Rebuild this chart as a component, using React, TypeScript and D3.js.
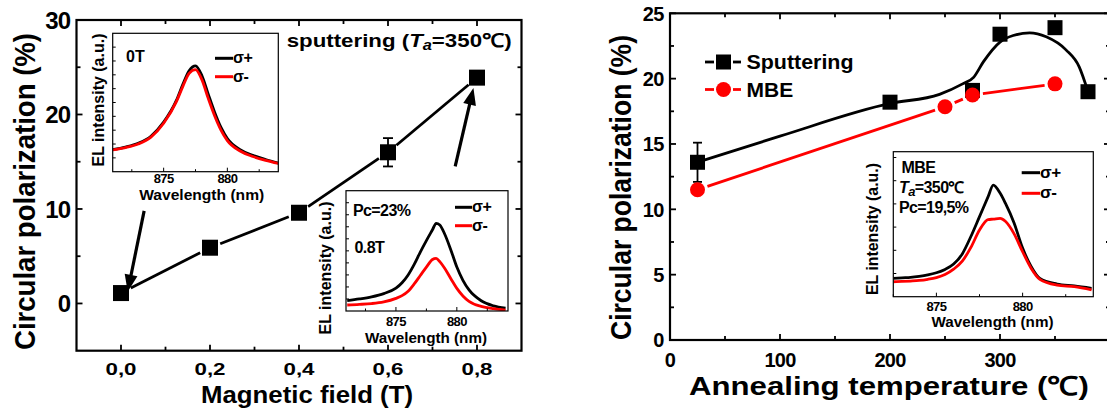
import React from "react";
import * as d3 from "d3";

const FONT = "'Liberation Sans', Arial, Helvetica, sans-serif";

// ---------- Panel (a): circular polarization vs magnetic field ----------
const fieldT = [0, 0.2, 0.4, 0.6, 0.8];
const pcField = [1.1, 5.9, 9.6, 16.0, 23.9];
const pcFieldErr = [0, 0, 0, 1.5, 0];
const fieldTickVals = [0, 0.2, 0.4, 0.6, 0.8];
const fieldTickLabels = ["0,0", "0,2", "0,4", "0,6", "0,8"];
const pcATickVals = [0, 10, 20, 30];
// annotation arrows (data coords): from -> to
const arrowFrom = [[0.052, 9.8], [0.751, 14.5]];
const arrowTo = [[0.015, 1.25], [0.792, 22.8]];

// ---------- Panel (b): circular polarization vs annealing temperature ----------
const annealT = [25, 200, 275, 300, 350, 380];
const pcSputter = [13.6, 18.2, 19.1, 23.4, 23.9, 19.0];
const sputterErr = [1.5, 0, 0, 0, 0, 0];
const mbeT = [25, 250, 275, 350];
const pcMBE = [11.5, 17.85, 18.75, 19.6];
const fitT = [25, 100, 200, 245, 266, 276, 285, 300, 312, 327, 342, 360, 372, 380];
const fitPc = [13.6, 15.6, 18.1, 18.8, 19.6, 20.1, 21.3, 22.8, 23.3, 23.5, 23.2, 22.2, 20.9, 19.0];
const tempTickVals = [0, 100, 200, 300];
const pcBTickVals = [0, 5, 10, 15, 20, 25];

// ---------- Inset spectra (EL intensity, a.u.) ----------
const wl0T = [871, 872, 873, 874, 875, 876, 876.5, 877, 877.5, 878, 878.5, 879, 879.5, 880, 881, 882, 883, 884];
const el0TPlus = [16.0, 17.8, 20.5, 25.6, 35.8, 51.5, 63.0, 73.0, 76.5, 69.5, 56.0, 43.0, 32.0, 24.0, 16.0, 11.8, 8.8, 6.3];
const el0TMinus = [15.7, 17.4, 20.0, 25.0, 35.0, 50.6, 61.5, 71.1, 73.8, 66.5, 53.0, 40.5, 30.1, 22.5, 15.0, 11.0, 8.2, 6.0];

const wl08T = [871, 872, 873, 874, 875, 875.5, 876, 876.5, 877, 877.5, 878, 878.3, 878.6, 879, 879.5, 880, 880.5, 881, 882, 883, 884];
const el08TPlus = [8.6, 10.0, 11.8, 14.5, 19.0, 23.5, 30.0, 38.8, 49.0, 58.5, 67.5, 72.9, 71.5, 64.0, 51.0, 36.5, 25.5, 17.5, 8.5, 4.3, 2.4];
const el08TMinus = [5.0, 5.5, 6.2, 7.6, 10.5, 12.8, 16.5, 22.5, 29.5, 36.5, 42.8, 43.8, 41.0, 35.5, 27.0, 18.8, 12.5, 8.0, 3.8, 1.9, 0.8];

const wlMBE = [872.5, 873, 873.5, 874, 874.5, 875, 875.5, 876, 876.5, 877, 877.5, 878, 878.3, 878.7, 879, 879.5, 880, 880.5, 881, 882, 883, 884];
const elMBEPlus = [12.6, 13.0, 13.3, 14.0, 15.0, 16.5, 18.8, 22.5, 29.5, 41.5, 55.2, 69.0, 77.0, 71.3, 64.5, 51.0, 33.5, 20.7, 12.6, 8.7, 7.4, 5.8];
const elMBEMinus = [10.3, 10.5, 10.8, 11.2, 12.0, 13.2, 15.3, 19.0, 24.5, 34.0, 46.0, 53.2, 53.5, 54.0, 52.0, 43.5, 31.0, 19.5, 12.0, 8.0, 6.9, 4.7];

const insetTickVals = [875, 880];
const insetMinorVals = [872.5, 877.5, 882.5];

const RED = "#ff0000";

type Scale = d3.ScaleLinear<number, number>;

function Frame({ x, y, lw }: { x: Scale; y: Scale; lw: number }) {
  const [x0, x1] = x.range();
  const [y0, y1] = y.range();
  return (
    <rect x={Math.min(x0, x1)} y={Math.min(y0, y1)} width={Math.abs(x1 - x0)} height={Math.abs(y1 - y0)}
      fill="none" stroke="#000" strokeWidth={lw} />
  );
}

function AxisTicks({ x, y, xMajor, xMinor, yMajor, yMinor }: any) {
  const [xl, xr] = x.range();
  const [yb, yt] = y.range();
  const out: any[] = [];
  const M = 6, m = 4;
  xMajor.forEach((v: number, i: number) => {
    const px = x(v);
    out.push(<line key={"xb" + i} x1={px} x2={px} y1={yb} y2={yb - M} />);
    out.push(<line key={"xt" + i} x1={px} x2={px} y1={yt} y2={yt + M} />);
  });
  xMinor.forEach((v: number, i: number) => {
    const px = x(v);
    out.push(<line key={"xbm" + i} x1={px} x2={px} y1={yb} y2={yb - m} />);
    out.push(<line key={"xtm" + i} x1={px} x2={px} y1={yt} y2={yt + m} />);
  });
  yMajor.forEach((v: number, i: number) => {
    const py = y(v);
    out.push(<line key={"yl" + i} x1={xl} x2={xl + M} y1={py} y2={py} />);
    out.push(<line key={"yr" + i} x1={xr} x2={xr - M} y1={py} y2={py} />);
  });
  yMinor.forEach((v: number, i: number) => {
    const py = y(v);
    out.push(<line key={"ylm" + i} x1={xl} x2={xl + m} y1={py} y2={py} />);
    out.push(<line key={"yrm" + i} x1={xr} x2={xr - m} y1={py} y2={py} />);
  });
  return <g stroke="#000" strokeWidth={1.8}>{out}</g>;
}

function gapSegments(xs: number[], ys: number[], gap: number) {
  const segs: any[] = [];
  for (let i = 0; i < xs.length - 1; i++) {
    const dx = xs[i + 1] - xs[i];
    const dy = ys[i + 1] - ys[i];
    const L = Math.hypot(dx, dy);
    if (L <= 2 * gap) continue;
    const ux = dx / L, uy = dy / L;
    segs.push([xs[i] + ux * gap, ys[i] + uy * gap, xs[i + 1] - ux * gap, ys[i + 1] - uy * gap]);
  }
  return segs;
}

function Inset(props: {
  x: Scale; y: Scale; wl: number[]; plus: number[]; minus: number[]; yTickStep: number;
  curve: any; tickBase: number; wlCenter: number; wlBase: number; wlLen: number;
  ylabX: number; ylabY: number; ylabLen: number; fs: number;
}) {
  const { x, y, wl, plus, minus, yTickStep, curve } = props;
  const line = d3.line<number>().x((_, i) => x(wl[i])).y((d) => y(d)).curve(curve);
  const [xl] = x.range();
  const [yb] = y.range();
  const yt = d3.range(yTickStep, 100, yTickStep);
  const cid = "clip" + Math.round(xl);
  return (
    <g>
      <rect x={x.range()[0]} y={y.range()[1]} width={x.range()[1] - x.range()[0]} height={y.range()[0] - y.range()[1]} fill="#fff" />
      <defs>
        <clipPath id={cid}>
          <rect x={x.range()[0]} y={y.range()[1]} width={x.range()[1] - x.range()[0]} height={y.range()[0] - y.range()[1]} />
        </clipPath>
      </defs>
      <g clipPath={`url(#${cid})`} fill="none" strokeWidth={2.8} strokeLinejoin="round">
        <path d={line(plus) || ""} stroke="#000" />
        <path d={line(minus) || ""} stroke={RED} />
      </g>
      <Frame x={x} y={y} lw={1.2} />
      <g stroke="#000" strokeWidth={1}>
        {insetTickVals.map((v) => (
          <line key={"M" + v} x1={x(v)} x2={x(v)} y1={yb} y2={yb - 4} />
        ))}
        {insetMinorVals.map((v) => (
          <line key={"m" + v} x1={x(v)} x2={x(v)} y1={yb} y2={yb - 2.5} />
        ))}
        {yt.map((v) => (
          <line key={"y" + v} x1={xl} x2={xl + 3} y1={y(v)} y2={y(v)} />
        ))}
      </g>
      <g fontFamily={FONT} fontWeight="bold" fill="#000">
        {insetTickVals.map((v) => (
          <text key={"t" + v} x={x(v)} y={props.tickBase} fontSize={13} textAnchor="middle" letterSpacing={-0.6}>
            {v}
          </text>
        ))}
        <text x={props.wlCenter} y={props.wlBase} fontSize={props.fs - 0.5} textAnchor="middle" textLength={props.wlLen} lengthAdjust="spacingAndGlyphs">
          Wavelength (nm)
        </text>
        <text transform={`translate(${props.ylabX},${props.ylabY}) rotate(-90)`} fontSize={props.fs} textAnchor="middle"
          textLength={props.ylabLen} lengthAdjust="spacingAndGlyphs">
          EL intensity (a.u.)
        </text>
      </g>
    </g>
  );
}

function LegendPM({ x1, x2, y1, y2, fs }: { x1: number; x2: number; y1: number; y2: number; fs: number }) {
  return (
    <g fontFamily={FONT} fontWeight="bold" fontSize={fs}>
      <line x1={x1} x2={x2} y1={y1} y2={y1} stroke="#000" strokeWidth={3} />
      <text x={x2} y={y1 + 5} letterSpacing={-0.5}>σ+</text>
      <line x1={x1} x2={x2} y1={y2} y2={y2} stroke={RED} strokeWidth={3} />
      <text x={x2} y={y2 + 5} letterSpacing={-0.5}>σ-</text>
    </g>
  );
}

function Arrow({ x1, y1, x2, y2 }: { x1: number; y1: number; x2: number; y2: number }) {
  const L = Math.hypot(x2 - x1, y2 - y1);
  const ux = (x2 - x1) / L, uy = (y2 - y1) / L;
  const hl = 17, hw = 6.5;
  const bx = x2 - ux * hl, by = y2 - uy * hl;
  const px = -uy, py = ux;
  const pts = `${x2},${y2} ${bx + px * hw},${by + py * hw} ${bx - px * hw},${by - py * hw}`;
  return (
    <g>
      <line x1={x1} y1={y1} x2={bx + ux * 2} y2={by + uy * 2} stroke="#000" strokeWidth={3.2} />
      <polygon points={pts} fill="#000" />
    </g>
  );
}

export default function App() {
  // Panel (a) scales
  const xA = d3.scaleLinear().domain([-0.1, 0.9]).range([76.5, 521.5]);
  const yA = d3.scaleLinear().domain([-5, 30]).range([350.7, 20]);
  // Panel (b) scales
  const xB = d3.scaleLinear().domain([0, 400]).range([670, 1110]);
  const yB = d3.scaleLinear().domain([0, 25]).range([340, 13.3]);
  // Inset scales
  const yI = (b: number, t: number) => d3.scaleLinear().domain([0, 100]).range([b, t]);
  const x1 = d3.scaleLinear().domain([871, 884]).range([112.7, 278.3]);
  const y1 = yI(171.7, 33.3);
  const x2 = d3.scaleLinear().domain([870.9, 884.2]).range([346, 508]);
  const y2 = yI(311, 190.7);
  const x3 = d3.scaleLinear().domain([872.5, 884.1]).range([893.3, 1093.3]);
  const y3 = yI(296.7, 151.7);

  const aPx = fieldT.map((v) => xA(v));
  const aPy = pcField.map((v) => yA(v));
  const segA = gapSegments(aPx, aPy, 11);

  const mPx = mbeT.map((v) => xB(v));
  const mPy = pcMBE.map((v) => yB(v));
  const segM = gapSegments(mPx, mPy, 10.5);

  const fitLine = d3.line<number>().x((_, i) => xB(fitT[i])).y((d) => yB(d)).curve(d3.curveMonotoneX);

  const sqA = 16, sqB = 15, rB = 7.5;

  return (
    <svg width={1107} height={414} viewBox="0 0 1107 414"
      style={{ position: "absolute", left: 0, top: 0, background: "#fff" }}>
      <rect x={0} y={0} width={1107} height={414} fill="#fff" />

      {/* ================= Panel (a) ================= */}
      <Frame x={xA} y={yA} lw={2.2} />
      <AxisTicks x={xA} y={yA}
        xMajor={fieldTickVals} xMinor={[0.1, 0.3, 0.5, 0.7]}
        yMajor={pcATickVals} yMinor={[5, 15, 25]} />

      <Inset x={x1} y={y1} wl={wl0T} plus={el0TPlus} minus={el0TMinus} yTickStep={10}
        curve={d3.curveMonotoneX} tickBase={183} wlCenter={201.7} wlBase={200} wlLen={125}
        ylabX={104} ylabY={100} ylabLen={133} fs={16} />
      <g fontFamily={FONT} fontWeight="bold" fontSize={16}>
        <text x={126} y={62}>0T</text>
      </g>
      <LegendPM x1={215} x2={233} y1={58.3} y2={76.7} fs={16} />

      <Inset x={x2} y={y2} wl={wl08T} plus={el08TPlus} minus={el08TMinus} yTickStep={10}
        curve={d3.curveMonotoneX} tickBase={326} wlCenter={426} wlBase={343} wlLen={122}
        ylabX={330.5} ylabY={268} ylabLen={133} fs={16} />
      <g fontFamily={FONT} fontWeight="bold" fontSize={16} letterSpacing={-0.6}>
        <text x={353} y={216}>Pc=23%</text>
        <text x={354.5} y={253}>0.8T</text>
      </g>
      <LegendPM x1={455} x2={472} y1={207.3} y2={225.7} fs={16} />

      {/* data line with gaps */}
      <g stroke="#000" strokeWidth={2.8}>
        {segA.map((s, i) => (
          <line key={i} x1={s[0]} y1={s[1]} x2={s[2]} y2={s[3]} />
        ))}
      </g>
      {/* error bars */}
      <g stroke="#000" strokeWidth={1.8}>
        {fieldT.map((v, i) =>
          pcFieldErr[i] > 0 ? (
            <g key={i}>
              <line x1={xA(v)} x2={xA(v)} y1={yA(pcField[i] - pcFieldErr[i])} y2={yA(pcField[i] + pcFieldErr[i])} />
              <line x1={xA(v) - 5} x2={xA(v) + 5} y1={yA(pcField[i] - pcFieldErr[i])} y2={yA(pcField[i] - pcFieldErr[i])} />
              <line x1={xA(v) - 5} x2={xA(v) + 5} y1={yA(pcField[i] + pcFieldErr[i])} y2={yA(pcField[i] + pcFieldErr[i])} />
            </g>
          ) : null
        )}
      </g>
      <g fill="#000">
        {fieldT.map((v, i) => (
          <rect key={i} x={xA(v) - sqA / 2} y={yA(pcField[i]) - sqA / 2} width={sqA} height={sqA} />
        ))}
      </g>
      {arrowFrom.map((f, i) => (
        <Arrow key={i} x1={xA(f[0])} y1={yA(f[1])} x2={xA(arrowTo[i][0])} y2={yA(arrowTo[i][1])} />
      ))}

      {/* panel (a) texts */}
      <g fontFamily={FONT} fontWeight="bold" fill="#000">
        {pcATickVals.map((v) => (
          <text key={v} x={70} y={yA(v) + 8.6} fontSize={24} textAnchor="end" letterSpacing={-1}>
            {v}
          </text>
        ))}
        {fieldTickVals.map((v, i) => (
          <text key={v} x={xA(v)} y={374.5} fontSize={16.5} textAnchor="middle" textLength={31} lengthAdjust="spacingAndGlyphs">
            {fieldTickLabels[i]}
          </text>
        ))}
        <text x={307} y={403} fontSize={23} textAnchor="middle" textLength={212} lengthAdjust="spacingAndGlyphs">
          Magnetic field (T)
        </text>
        <text transform={`translate(35,191.5) rotate(-90)`} fontSize={30} textAnchor="middle" textLength={317}
          lengthAdjust="spacingAndGlyphs">
          Circular polarization (%)
        </text>
        <text x={286.7} y={46.5} fontSize={19} textLength={225} lengthAdjust="spacingAndGlyphs">
          sputtering (<tspan fontStyle="italic">T</tspan>
          <tspan fontStyle="italic" fontSize={14} dy={3}>a</tspan>
          <tspan dy={-3}>=350℃)</tspan>
        </text>
      </g>

      {/* ================= Panel (b) ================= */}
      <Frame x={xB} y={yB} lw={2.2} />
      <AxisTicks x={xB} y={yB}
        xMajor={tempTickVals} xMinor={[50, 150, 250, 350]}
        yMajor={pcBTickVals} yMinor={[2.5, 7.5, 12.5, 17.5, 22.5]} />

      <Inset x={x3} y={y3} wl={wlMBE} plus={elMBEPlus} minus={elMBEMinus} yTickStep={16}
        curve={d3.curveMonotoneX} tickBase={310.5} wlCenter={992.5} wlBase={326.5} wlLen={122}
        ylabX={878} ylabY={229} ylabLen={132} fs={16} />
      <g fontFamily={FONT} fontWeight="bold" fontSize={16} letterSpacing={-0.6}>
        <text x={901.5} y={173}>MBE</text>
        <text x={899} y={193}>
          <tspan fontStyle="italic">T</tspan>
          <tspan fontStyle="italic" fontSize={13} dy={3}>a</tspan>
          <tspan dy={-3}>=350℃</tspan>
        </text>
        <text x={899} y={213}>Pc=19,5%</text>
      </g>
      <LegendPM x1={1021.7} x2={1040} y1={172.7} y2={193.3} fs={17} />

      {/* fit curve */}
      <path d={fitLine(fitPc) || ""} fill="none" stroke="#000" strokeWidth={2.8} />
      {/* MBE line with gaps */}
      <g stroke={RED} strokeWidth={2.8}>
        {segM.map((s, i) => (
          <line key={i} x1={s[0]} y1={s[1]} x2={s[2]} y2={s[3]} />
        ))}
      </g>
      {/* error bars */}
      <g stroke="#000" strokeWidth={1.8}>
        {annealT.map((v, i) =>
          sputterErr[i] > 0 ? (
            <g key={i}>
              <line x1={xB(v)} x2={xB(v)} y1={yB(pcSputter[i] - sputterErr[i])} y2={yB(pcSputter[i] + sputterErr[i])} />
              <line x1={xB(v) - 4.5} x2={xB(v) + 4.5} y1={yB(pcSputter[i] - sputterErr[i])} y2={yB(pcSputter[i] - sputterErr[i])} />
              <line x1={xB(v) - 4.5} x2={xB(v) + 4.5} y1={yB(pcSputter[i] + sputterErr[i])} y2={yB(pcSputter[i] + sputterErr[i])} />
            </g>
          ) : null
        )}
      </g>
      <g fill="#000">
        {annealT.map((v, i) => (
          <rect key={i} x={xB(v) - sqB / 2} y={yB(pcSputter[i]) - sqB / 2} width={sqB} height={sqB} />
        ))}
      </g>
      <g fill={RED}>
        {mbeT.map((v, i) => (
          <circle key={i} cx={xB(v)} cy={yB(pcMBE[i])} r={rB} />
        ))}
      </g>

      {/* legend */}
      <g>
        <line x1={705} x2={714} y1={62} y2={62} stroke="#000" strokeWidth={2.8} />
        <line x1={733} x2={741} y1={62} y2={62} stroke="#000" strokeWidth={2.8} />
        <rect x={723.5 - sqB / 2} y={62 - sqB / 2} width={sqB} height={sqB} fill="#000" />
        <line x1={705} x2={714} y1={89.5} y2={89.5} stroke={RED} strokeWidth={2.8} />
        <line x1={733} x2={741} y1={89.5} y2={89.5} stroke={RED} strokeWidth={2.8} />
        <circle cx={723.5} cy={89.5} r={rB} fill={RED} />
        <g fontFamily={FONT} fontWeight="bold" fontSize={21}>
          <text x={746.5} y={69} textLength={107} lengthAdjust="spacingAndGlyphs">Sputtering</text>
          <text x={746.5} y={96.5}>MBE</text>
        </g>
      </g>

      {/* panel (b) texts */}
      <g fontFamily={FONT} fontWeight="bold" fill="#000">
        {pcBTickVals.map((v) => (
          <text key={v} x={663.5} y={yB(v) + 7.2} fontSize={20} textAnchor="end" letterSpacing={-0.8}>
            {v}
          </text>
        ))}
        {tempTickVals.map((v) => (
          <text key={v} x={xB(v)} y={366.5} fontSize={20} textAnchor="middle" letterSpacing={-0.8}>
            {v}
          </text>
        ))}
        <text x={889} y={395} fontSize={26} textAnchor="middle" textLength={400} lengthAdjust="spacingAndGlyphs">
          Annealing temperature (℃)
        </text>
        <text transform={`translate(631,187.5) rotate(-90)`} fontSize={29} textAnchor="middle" textLength={305}
          lengthAdjust="spacingAndGlyphs">
          Circular polarization (%)
        </text>
      </g>
    </svg>
  );
}
